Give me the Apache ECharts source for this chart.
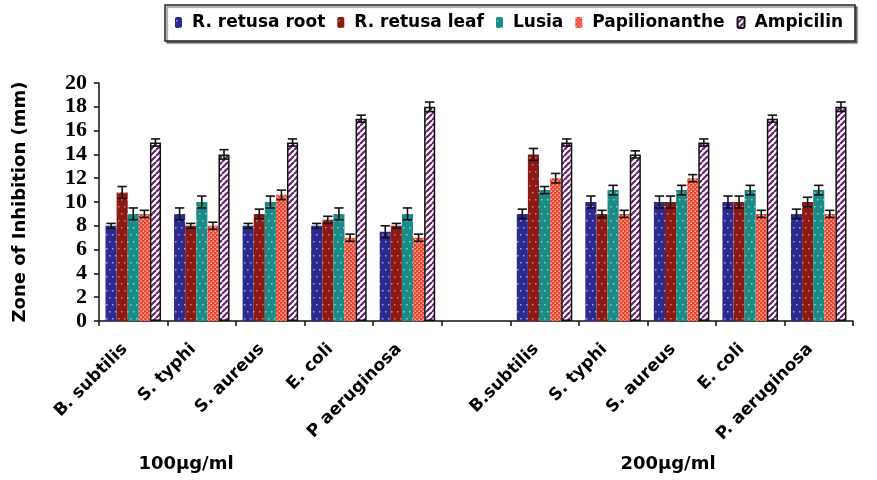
<!DOCTYPE html>
<html>
<head>
<meta charset="utf-8">
<script src="https://cdn.jsdelivr.net/npm/echarts@6/dist/echarts.min.js"></script>
<style>
  html, body { margin: 0; padding: 0; background: #fff; }
  #chart { width: 877px; height: 480px; }
</style>
</head>
<body>
<div id="chart"></div>
<script>
// Bacterial strains, two concentration blocks separated by an empty slot
const categories = ['B. subtilis', 'S. typhi', 'S. aureus', 'E. coli', 'P aeruginosa', '',
                    'B.subtilis', 'S. typhi', 'S. aureus', 'E. coli', 'P. aeruginosa'];
const seriesNames = ['R. retusa root', 'R. retusa leaf', 'Lusia', 'Papilionanthe', 'Ampicilin'];
const yTicks = [0, 2, 4, 6, 8, 10, 12, 14, 16, 18, 20];
const groupLabels = ['100µg/ml', '200µg/ml'];

// Zone of inhibition (mm)
const rootVals  = [8, 9, 8, 8, 7.5, '-', 9, 10, 10, 10, 9];
const leafVals  = [10.8, 8, 9, 8.5, 8, '-', 14, 9, 10, 10, 10];
const lusiaVals = [9, 10, 10, 9, 9, '-', 11, 11, 11, 11, 11];
const papVals   = [9, 8, 10.6, 7, 7, '-', 12, 9, 12, 9, 9];
const ampVals   = [15, 14, 15, 17, 18, '-', 15, 14, 15, 17, 18];

// Standard error (mm)
const rootErr  = [0.2, 0.5, 0.2, 0.2, 0.5, '-', 0.4, 0.5, 0.5, 0.5, 0.4];
const leafErr  = [0.5, 0.2, 0.4, 0.3, 0.2, '-', 0.5, 0.3, 0.5, 0.5, 0.4];
const lusiaErr = [0.5, 0.5, 0.5, 0.5, 0.5, '-', 0.3, 0.4, 0.4, 0.4, 0.4];
const papErr   = [0.3, 0.3, 0.4, 0.3, 0.3, '-', 0.4, 0.3, 0.3, 0.3, 0.3];
const ampErr   = [0.3, 0.4, 0.3, 0.3, 0.4, '-', 0.3, 0.3, 0.3, 0.3, 0.4];

const allVals = [rootVals, leafVals, lusiaVals, papVals, ampVals];
const allErrs = [rootErr, leafErr, lusiaErr, papErr, ampErr];

// Small repeating canvas fills for the bars
function makePattern(w, h, draw) {
  const c = document.createElement('canvas');
  c.width = w; c.height = h;
  const g = c.getContext('2d');
  draw(g, w, h);
  return { image: c, repeat: 'repeat' };
}
function dotted(base, dot) {
  return makePattern(6, 14, (g, w, h) => {
    g.fillStyle = base; g.fillRect(0, 0, w, h);
    g.fillStyle = dot;
    g.fillRect(1, 3, 1.5, 1.5);
    g.fillRect(4, 10, 1.5, 1.5);
  });
}
const rootFill = dotted('#2c2a8e', 'rgba(200,200,255,0.75)');
const leafFill = dotted('#8c1a14', 'rgba(255,190,180,0.6)');
const lusiaFill = dotted('#1a8b87', 'rgba(200,255,250,0.6)');
const papFill = makePattern(4, 4, (g, w, h) => {
  g.fillStyle = '#f1412b'; g.fillRect(0, 0, w, h);
  g.fillStyle = 'rgba(255,235,225,0.95)';
  g.fillRect(0.5, 0.5, 1.3, 1.3);
  g.fillRect(2.5, 2.5, 1.3, 1.3);
});
const ampFill = makePattern(6, 6, (g, s) => {
  g.fillStyle = '#ffffff'; g.fillRect(0, 0, s, s);
  g.strokeStyle = '#6b2270'; g.lineWidth = 2.2;
  for (let k = -1; k <= 1; k++) {
    g.beginPath(); g.moveTo(k * s, s); g.lineTo(k * s + s, 0); g.stroke();
  }
});
const fills = [rootFill, leafFill, lusiaFill, papFill, ampFill];

const GAP = 0.19;
const barSeries = seriesNames.map((name, s) => ({
  name,
  type: 'bar',
  data: allVals[s],
  barGap: '0%',
  barCategoryGap: (GAP * 100) + '%',
  itemStyle: s === 4
    ? { color: fills[s], borderColor: '#111', borderWidth: 1.5 }
    : { color: fills[s] },
  z: 2
}));

const errData = [];
allVals.forEach((vals, s) => {
  vals.forEach((v, i) => {
    if (v !== '-') errData.push([i, v, allErrs[s][i], s]);
  });
});

const errSeries = {
  type: 'custom',
  name: 'err',
  data: errData,
  encode: { x: 0, y: 1 },
  z: 5,
  renderItem(params, api) {
    const cat = api.value(0), v = api.value(1), e = api.value(2), s = api.value(3);
    const band = api.size([1, 0])[0];
    const bw = band * (1 - GAP) / 5;
    const c = api.coord([cat, v]);
    const x = c[0] - band * (1 - GAP) / 2 + bw * (s + 0.5);
    const top = api.coord([cat, v + e])[1];
    const bot = api.coord([cat, v - e])[1];
    const hw = bw * 0.42;
    const st = { stroke: '#111', lineWidth: 1.6 };
    return {
      type: 'group',
      children: [
        { type: 'line', shape: { x1: x, y1: top, x2: x, y2: bot }, style: st },
        { type: 'line', shape: { x1: x - hw, y1: top, x2: x + hw, y2: top }, style: st },
        { type: 'line', shape: { x1: x - hw, y1: bot, x2: x + hw, y2: bot }, style: st }
      ]
    };
  }
};

const chart = echarts.init(document.getElementById('chart'), null, { renderer: 'canvas' });
chart.setOption({
  animation: false,
  backgroundColor: '#fff',
  grid: { left: 99, right: 24, top: 83, bottom: 159, containLabel: false },
  legend: {
    data: seriesNames,
    left: 175, top: 14,
    itemWidth: 7, itemHeight: 11,
    itemGap: 12,
    padding: 0,
    z: 10,
    textStyle: {
      fontFamily: 'DejaVu Sans', fontWeight: 'bold', fontSize: 17, color: '#000',
      padding: [0, 0, 0, 5]
    }
  },
  xAxis: {
    type: 'category',
    data: categories,
    axisLine: { lineStyle: { color: '#111', width: 1.5 } },
    axisTick: { show: true, length: 5, alignWithLabel: false, interval: 0, lineStyle: { color: '#111', width: 1.5 } },
    axisLabel: {
      interval: 0, rotate: 45, margin: 17,
      padding: [0, 12, 0, 0],
      fontFamily: 'DejaVu Sans', fontWeight: 'bold', fontSize: 17, color: '#000'
    },
    splitLine: { show: false }
  },
  yAxis: {
    type: 'value',
    min: yTicks[0], max: yTicks[yTicks.length - 1], interval: 2,
    name: 'Zone of Inhibition (mm)',
    nameLocation: 'middle', nameRotate: 90, nameGap: 70,
    nameTextStyle: { fontFamily: 'DejaVu Sans', fontWeight: 'bold', fontSize: 18, color: '#000' },
    axisLine: { show: true, lineStyle: { color: '#111', width: 1.5 } },
    axisTick: { show: true, length: 5, lineStyle: { color: '#111', width: 1.5 } },
    axisLabel: {
      margin: 12,
      fontFamily: 'Liberation Sans Narrow', fontWeight: 'bold', fontSize: 22, color: '#000'
    },
    splitLine: { show: false }
  },
  graphic: [
    {
      type: 'rect', z: 0,
      shape: { x: 165, y: 5, width: 690, height: 36 },
      style: { fill: '#fff', stroke: '#222', lineWidth: 1.5,
               shadowColor: 'rgba(0,0,0,0.45)', shadowOffsetX: 2, shadowOffsetY: 2, shadowBlur: 1 }
    },
    {
      type: 'text', x: 186, y: 464,
      style: { text: groupLabels[0], font: 'bold 18px "DejaVu Sans"', fill: '#000', align: 'center', verticalAlign: 'middle' }
    },
    {
      type: 'text', x: 668, y: 464,
      style: { text: groupLabels[1], font: 'bold 18px "DejaVu Sans"', fill: '#000', align: 'center', verticalAlign: 'middle' }
    }
  ],
  series: [...barSeries, errSeries]
});
</script>
</body>
</html>
